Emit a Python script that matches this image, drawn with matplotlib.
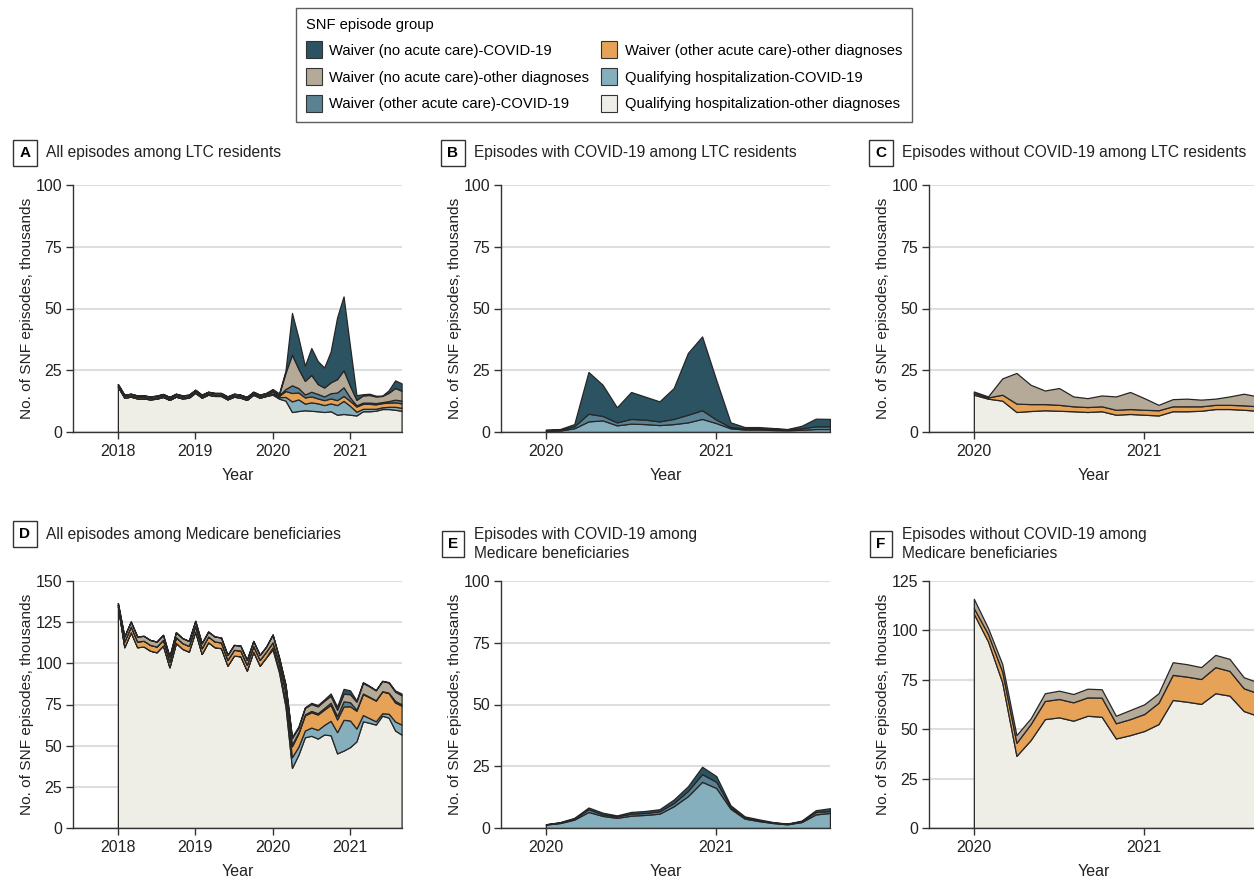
import numpy as np
import pandas as pd
import matplotlib
matplotlib.use('Agg')
import matplotlib.pyplot as plt
from matplotlib.patches import Patch

plt.rcParams['font.family'] = ['Liberation Sans', 'DejaVu Sans']
plt.rcParams['font.size'] = 11

# months
months_full = pd.date_range('2018-01-01', '2021-09-01', freq='MS')
months_pan = pd.date_range('2020-01-01', '2021-09-01', freq='MS')
x_full = months_full.year + (months_full.month - 1) / 12
x_pan = months_pan.year + (months_pan.month - 1) / 12

groups = ['Waiver (no acute care)-COVID-19',
          'Waiver (no acute care)-other diagnoses',
          'Waiver (other acute care)-COVID-19',
          'Waiver (other acute care)-other diagnoses',
          'Qualifying hospitalization-COVID-19',
          'Qualifying hospitalization-other diagnoses']
group_colors = ['#2c5361', '#b5aa98', '#5b8293', '#e6a257', '#86afbe', '#eeede6']

# LTC residents, Jan 2018 - Dec 2019 (thousands)
a_qh_other_pre = [18.3, 13.9, 14.3, 13.6, 13.6, 13.2, 13.5, 14.2, 13.0, 14.3, 13.6, 13.9,
                  15.9, 13.9, 15.1, 14.6, 14.6, 13.2, 14.3, 13.9, 13.0, 15.1, 13.9, 14.6]
a_wo_other_pre = [0.5, 0.6, 0.6, 0.6, 0.6, 0.6, 0.6, 0.6, 0.6, 0.6, 0.6, 0.6,
                  0.6, 0.6, 0.6, 0.6, 0.6, 0.6, 0.6, 0.6, 0.6, 0.6, 0.6, 0.6]
a_wn_other_pre = [0.6, 0.6, 0.6, 0.6, 0.6, 0.6, 0.6, 0.6, 0.6, 0.6, 0.6, 0.6,
                  0.6, 0.6, 0.6, 0.6, 0.6, 0.6, 0.6, 0.6, 0.6, 0.6, 0.6, 0.6]

# LTC residents with COVID-19, Jan 2020 - Sep 2021
b_qh_covid = [0.5, 0.6, 1.5, 4.3, 4.7, 2.7, 3.4, 3.2, 2.8, 3.2, 3.9, 5.3, 3.6, 1.5, 1.0, 1.0, 0.8, 0.7, 0.9, 1.2, 1.2]
b_wo_covid = [0.2, 0.3, 0.8, 3.1, 1.8, 1.2, 1.9, 1.8, 1.5, 2.1, 3.1, 3.5, 1.4, 0.5, 0.5, 0.5, 0.5, 0.4, 0.6, 1.1, 1.1]
b_wn_covid = [0.3, 0.3, 0.9, 16.9, 12.6, 6.1, 10.9, 9.3, 8.1, 12.5, 25.0, 29.9, 16.0, 1.9, 0.5, 0.5, 0.3, 0.1, 1.0, 3.1, 3.0]

# LTC residents without COVID-19
c_qh_other = [15.1, 13.5, 12.7, 8.1, 8.5, 8.8, 8.6, 8.4, 8.1, 8.4, 7.0, 7.3, 7.0, 6.7, 8.4, 8.4, 8.6, 9.3, 9.3, 9.0, 8.6]
c_wo_other = [0.7, 0.5, 2.4, 3.4, 2.8, 2.5, 2.4, 2.0, 2.0, 2.0, 2.0, 2.0, 2.0, 2.1, 2.0, 2.0, 1.8, 1.7, 1.7, 1.8, 1.8]
c_wn_other = [0.6, 0.4, 6.6, 12.4, 7.8, 5.5, 6.8, 4.0, 3.6, 4.4, 5.4, 6.9, 4.7, 2.2, 2.9, 3.1, 2.7, 2.5, 3.4, 4.7, 4.0]

# Medicare beneficiaries, Jan 2018 - Dec 2019
d_qh_other_pre = [134.6, 109.8, 118.9, 109.8, 110.2, 107.7, 106.7, 110.8, 97.6, 112.4, 108.8, 107.1,
                  119.3, 105.7, 112.8, 109.8, 109.2, 98.6, 104.7, 104.3, 95.6, 107.1, 98.6, 103.7]
d_wo_other_pre = [1.0, 3.5, 3.5, 3.5, 3.5, 3.5, 3.5, 3.5, 3.5, 3.5, 3.5, 3.5,
                  3.5, 3.5, 3.5, 3.5, 3.5, 3.5, 3.5, 3.5, 3.5, 3.5, 3.5, 3.5]
d_wn_other_pre = [1.0, 3.0, 3.0, 3.0, 3.0, 3.0, 3.0, 3.0, 3.0, 3.0, 3.0, 3.0,
                  3.0, 3.0, 3.0, 3.0, 3.0, 3.0, 3.0, 3.0, 3.0, 3.0, 3.0, 3.0]

# Medicare beneficiaries with COVID-19
e_qh_covid = [1.4, 2.0, 3.4, 6.5, 4.9, 4.1, 5.0, 5.3, 5.8, 8.8, 12.9, 18.7, 16.2, 7.8, 3.8, 2.8, 2.0, 1.5, 2.4, 5.5, 6.1]
e_wo_covid = [0.1, 0.2, 0.4, 1.1, 0.6, 0.6, 0.8, 0.8, 1.0, 1.3, 2.1, 3.1, 2.5, 0.7, 0.4, 0.3, 0.2, 0.2, 0.3, 1.0, 0.8]
e_wn_covid = [0.0, 0.2, 0.3, 0.7, 0.7, 0.4, 0.7, 0.8, 0.8, 1.4, 1.9, 3.0, 2.3, 0.7, 0.5, 0.4, 0.2, 0.1, 0.3, 0.7, 1.1]

# Medicare beneficiaries without COVID-19
f_qh_other = [108.4, 94.4, 73.7, 36.5, 44.5, 55.1, 56.0, 54.3, 56.8, 56.3, 45.3, 47.0, 49.1, 52.6, 64.8, 63.9, 62.8, 68.2, 67.0, 59.2, 56.7]
f_wo_other = [2.9, 3.7, 5.5, 6.6, 8.1, 9.2, 9.3, 9.3, 9.3, 9.7, 7.7, 8.1, 8.6, 10.8, 12.7, 12.7, 12.6, 13.2, 12.5, 11.5, 11.5]
f_wn_other = [4.7, 3.1, 3.8, 3.9, 2.9, 3.9, 4.2, 4.2, 4.4, 4.2, 3.8, 4.6, 4.9, 4.8, 6.4, 6.3, 6.0, 6.2, 6.1, 5.6, 5.5]

no_covid_pre = [0.0] * 24

W, H = 1254, 882


def fx(px):
    return px / W


def fy(py):
    return 1 - py / H


def draw(ax, x, layers, cols, ymax, xlim, xticks):
    ax.stackplot(x, *layers, colors=cols, edgecolor='#262626', linewidth=0.9, zorder=2)
    ax.set_xlim(xlim)
    ax.set_ylim(0, ymax)
    ax.set_yticks(np.arange(0, ymax + 1, 25))
    ax.set_xticks(xticks)
    ax.set_xticklabels([str(t) for t in xticks])
    ax.grid(axis='y', color='#dedede', linewidth=1.5)
    ax.set_axisbelow(True)
    for s in ['top', 'right']:
        ax.spines[s].set_visible(False)
    for s in ['left', 'bottom']:
        ax.spines[s].set_color('#333333')
        ax.spines[s].set_linewidth(1.0)
    ax.tick_params(axis='both', colors='#333333', labelcolor='#222222', length=5, width=1.0, labelsize=11.5)
    ax.tick_params(axis='y', pad=3)
    ax.tick_params(axis='x', pad=4)
    ax.set_ylabel('No. of SNF episodes, thousands', fontsize=11.1, color='#222222')
    ax.yaxis.set_label_coords(-0.12, 0.5)
    ax.set_xlabel('Year', fontsize=11.5, color='#222222')
    ax.xaxis.set_label_coords(0.5, -0.145)


def panel_title(letter, text, bx, tx, ty):
    fig.text(fx(bx), fy(ty), letter, fontsize=11, fontweight='bold', ha='center', va='center',
             bbox=dict(boxstyle='square,pad=0.42', facecolor='white', edgecolor='#333333', linewidth=1.0))
    fig.text(fx(tx), fy(ty), text, fontsize=11.2, ha='left', va='center', color='#222222',
             linespacing=1.3)


fig = plt.figure(figsize=(W / 100, H / 100), dpi=100)

aw = 329 / W
ah = 247 / H
ax_a = fig.add_axes([fx(73), fy(432), aw, ah])
ax_b = fig.add_axes([fx(501), fy(432), aw, ah])
ax_c = fig.add_axes([fx(929), fy(432), aw, ah])
ax_d = fig.add_axes([fx(73), fy(828), aw, ah])
ax_e = fig.add_axes([fx(501), fy(828), aw, ah])
ax_f = fig.add_axes([fx(929), fy(828), aw, ah])

# stack order bottom to top
stack_cols = group_colors[::-1]

a_layers = [a_qh_other_pre + c_qh_other,
            no_covid_pre + b_qh_covid,
            a_wo_other_pre + c_wo_other,
            no_covid_pre + b_wo_covid,
            a_wn_other_pre + c_wn_other,
            no_covid_pre + b_wn_covid]
d_layers = [d_qh_other_pre + f_qh_other,
            no_covid_pre + e_qh_covid,
            d_wo_other_pre + f_wo_other,
            no_covid_pre + e_wo_covid,
            d_wn_other_pre + f_wn_other,
            no_covid_pre + e_wn_covid]

xl_full = (2017.42, 2021.672)
xl_pan = (2019.737, 2021.667)

draw(ax_a, x_full, a_layers, stack_cols, 100, xl_full, [2018, 2019, 2020, 2021])
draw(ax_b, x_pan, [b_qh_covid, b_wo_covid, b_wn_covid],
     [group_colors[4], group_colors[2], group_colors[0]], 100, xl_pan, [2020, 2021])
draw(ax_c, x_pan, [c_qh_other, c_wo_other, c_wn_other],
     [group_colors[5], group_colors[3], group_colors[1]], 100, xl_pan, [2020, 2021])
draw(ax_d, x_full, d_layers, stack_cols, 150, xl_full, [2018, 2019, 2020, 2021])
draw(ax_e, x_pan, [e_qh_covid, e_wo_covid, e_wn_covid],
     [group_colors[4], group_colors[2], group_colors[0]], 100, xl_pan, [2020, 2021])
draw(ax_f, x_pan, [f_qh_other, f_wo_other, f_wn_other],
     [group_colors[5], group_colors[3], group_colors[1]], 125, xl_pan, [2020, 2021])

panel_title('A', 'All episodes among LTC residents', 25, 46, 153)
panel_title('B', 'Episodes with COVID-19 among LTC residents', 453, 474, 153)
panel_title('C', 'Episodes without COVID-19 among LTC residents', 881, 902, 153)
panel_title('D', 'All episodes among Medicare beneficiaries', 25, 46, 534)
panel_title('E', 'Episodes with COVID-19 among\nMedicare beneficiaries', 453, 474, 544)
panel_title('F', 'Episodes without COVID-19 among\nMedicare beneficiaries', 881, 902, 544)

handles = [Patch(facecolor=c, edgecolor='#333333', linewidth=0.8) for c in group_colors]
leg = fig.legend(handles, groups, ncol=2, loc='upper center', bbox_to_anchor=(fx(604), fy(8)),
                 title='SNF episode group', alignment='left', fontsize=10.6, title_fontsize=10.6,
                 frameon=True, fancybox=False, edgecolor='#333333', handlelength=1.1,
                 handleheight=1.45, handletextpad=0.5, columnspacing=0.8, labelspacing=0.64,
                 borderpad=0.65, borderaxespad=0)
leg.get_frame().set_linewidth(1.0)

fig.savefig('out.png', dpi=100)
